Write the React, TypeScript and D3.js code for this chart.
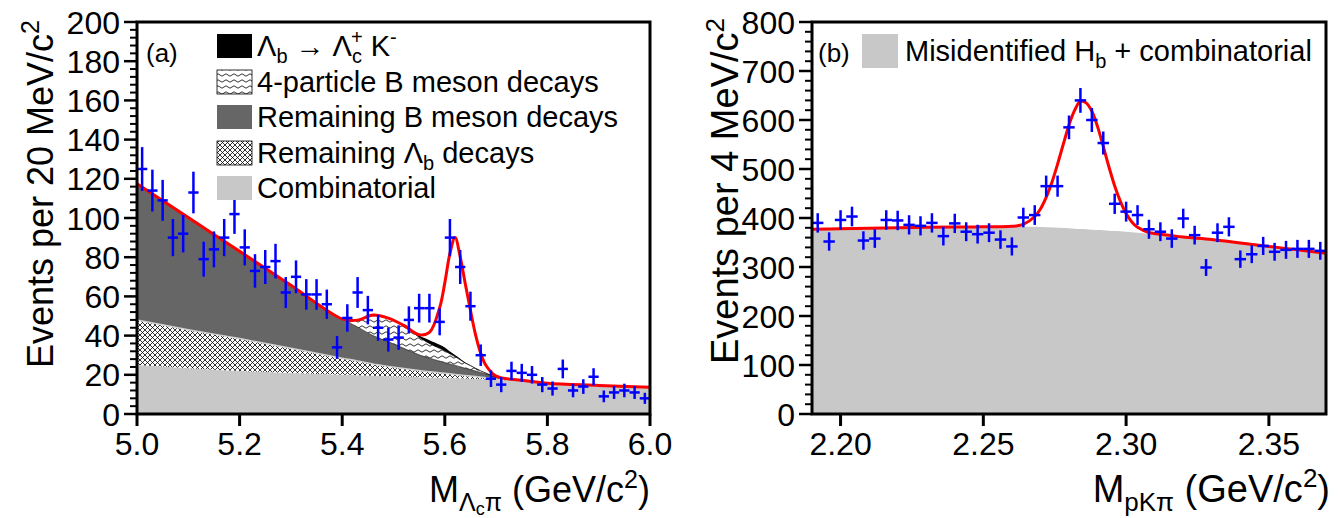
import React from "react";
import * as d3 from "d3";

const FONT = "'Liberation Sans', Arial, Helvetica, sans-serif";

// ---- panel (a): M(Λc π), 20 MeV bins from 5.0 to 6.0 ----
const countsA = [
  125, 114, 109, 90, 92, 113, 79, 84, 90, 102,
  85, 73, 75, 78, 62, 70, 61, 61, 56, 34,
  49, 62, 53, 44, 38, 39, 48, 54, 54, 47,
  90, 75, 55, 30, 18, 15, 22, 21, 20, 15,
  13, 23, 12, 14, 19, 9, 11, 12, 11, 8,
];

// fit components (events per bin)
const fitXA = [5.0, 5.1, 5.2, 5.3, 5.4, 5.43, 5.46, 5.49, 5.52, 5.55, 5.57, 5.59, 5.6, 5.61, 5.62, 5.63, 5.64, 5.65, 5.66, 5.67, 5.68, 5.7, 5.75, 5.8, 5.9, 6.0];
const combA = [25.0, 23.4, 22.0, 20.9, 20.0, 19.8, 19.5, 19.3, 19.0, 18.8, 18.6, 18.5, 18.4, 18.3, 18.2, 18.1, 18.0, 17.9, 17.8, 17.7, 17.6, 17.4, 16.6, 15.7, 14.6, 13.6];
const lbOtherA = [23.0, 19.6, 16.5, 12.6, 8.5, 7.3, 6.0, 5.0, 4.2, 3.4, 3.0, 2.6, 2.4, 2.2, 2.0, 1.8, 1.6, 1.5, 1.3, 1.1, 0.9, 0.5, 0.2, 0, 0, 0];
const bOtherA = [69.5, 57.2, 44.5, 32.2, 20.0, 17.3, 14.5, 12.6, 10.3, 8.0, 6.9, 5.9, 5.5, 5.0, 4.6, 4.2, 3.7, 3.3, 2.8, 2.4, 2.0, 0.8, 0.4, 0, 0, 0];
const b4A = [0, 0, 0, 0, 0, 3.5, 10.5, 12.0, 11.5, 9.0, 7.5, 6.5, 6.0, 5.2, 4.5, 3.6, 2.7, 2.0, 1.4, 0.8, 0.4, 0.1, 0, 0, 0, 0];
const lbKA = [0, 0, 0, 0, 0, 0, 0, 0, 0.2, 0.8, 1.6, 1.8, 1.6, 1.2, 0.8, 0.5, 0.3, 0.2, 0.1, 0, 0, 0, 0, 0, 0, 0];
const sigA = [0, 0, 0, 0, 0, 0, 0, 0, 0, 0.5, 4, 19, 33, 50, 60, 52, 40, 28, 17, 9, 4, 0.5, 0, 0, 0, 0];

// ---- panel (b): M(pKπ), 4 MeV bins from 2.19 to 2.37 ----
const countsB = [
  390, 352, 396, 403, 354, 358, 396, 395, 386, 384,
  390, 363, 389, 372, 367, 370, 356, 342, 401, 406,
  465, 465, 585, 640, 600, 553, 429, 413, 406, 377,
  372, 358, 399, 365, 299, 370, 382, 316, 326, 343,
  331, 335, 337, 337, 333,
];
const fitXB = [2.19, 2.2, 2.21, 2.22, 2.23, 2.24, 2.25, 2.26, 2.264, 2.268, 2.27, 2.272, 2.274, 2.276, 2.278, 2.28, 2.282, 2.284, 2.286, 2.288, 2.29, 2.292, 2.294, 2.296, 2.298, 2.3, 2.302, 2.304, 2.308, 2.315, 2.32, 2.33, 2.34, 2.35, 2.36, 2.37];
const bkgB = [377, 378, 379, 380, 381, 381.5, 382, 382, 382, 382, 381.5, 381, 380.5, 380, 379.5, 379, 378, 377.5, 377, 376, 375.5, 375, 374, 373.5, 373, 372, 371, 370, 368, 365, 361, 356, 349, 342, 335, 328];
const sigB = [0, 0, 0, 0, 0, 0, 0, 1, 5, 21, 37, 61, 92, 130, 171, 211, 242, 261, 258, 242, 211, 171, 130, 92, 61, 37, 21, 11, 2.5, 0, 0, 0, 0, 0, 0, 0];

const xTicksA = [5.0, 5.2, 5.4, 5.6, 5.8, 6.0];
const xTicksB = [2.2, 2.25, 2.3, 2.35];

const boxA = { left: 137, right: 650, top: 22, bottom: 414 };
const boxB = { left: 812, right: 1326, top: 22, bottom: 414 };

function cumulate(layers: number[][]) {
  let run = layers[0].map(() => 0);
  return layers.map(l => (run = run.map((v, i) => v + l[i])));
}

function Axes({ box, x, y, xTicks, xFmt, yStep, yMinorStep }: any) {
  const [y0, y1] = y.domain();
  const major = d3.range(y0, y1 + 0.001, yStep);
  const minor = d3.range(y0, y1 + 0.001, yMinorStep).filter(v => v % yStep !== 0);
  return (
    <g fontFamily={FONT} fontSize={32}>
      {minor.map(v => (
        <line key={"m" + v} x1={box.left - 7} x2={box.left} y1={y(v)} y2={y(v)} stroke="#000" strokeWidth={2} />
      ))}
      {major.map(v => (
        <g key={"M" + v}>
          <line x1={box.left - 13} x2={box.left} y1={y(v)} y2={y(v)} stroke="#000" strokeWidth={2.5} />
          <text x={box.left - 17} y={y(v)} dy="0.36em" textAnchor="end">{v}</text>
        </g>
      ))}
      {xTicks.map((v: number) => (
        <g key={"x" + v}>
          <line x1={x(v)} x2={x(v)} y1={box.bottom} y2={box.bottom + 12} stroke="#000" strokeWidth={3} />
          <text x={x(v)} y={box.bottom + 18} dy="0.72em" textAnchor="middle">{xFmt(v)}</text>
        </g>
      ))}
      <rect x={box.left} y={box.top} width={box.right - box.left} height={box.bottom - box.top}
        fill="none" stroke="#000" strokeWidth={3} />
    </g>
  );
}

function Points({ counts, x, y, lo, bw, clip }: any) {
  return (
    <g stroke="#0000ff" strokeWidth={2.5} clipPath={clip}>
      {counts.map((c: number, i: number) => {
        const cx = lo + bw * (i + 0.5);
        const e = Math.sqrt(c);
        return (
          <g key={i}>
            <line x1={x(cx)} x2={x(cx)} y1={y(c - e)} y2={y(c + e)} />
            <line x1={x(cx - bw / 2)} x2={x(cx + bw / 2)} y1={y(c)} y2={y(c)} />
          </g>
        );
      })}
    </g>
  );
}

export default function App() {
  const xA = d3.scaleLinear().domain([5.0, 6.0]).range([boxA.left, boxA.right]);
  const yA = d3.scaleLinear().domain([0, 200]).range([boxA.bottom, boxA.top]);
  const xB = d3.scaleLinear().domain([2.19, 2.37]).range([boxB.left, boxB.right]);
  const yB = d3.scaleLinear().domain([0, 800]).range([boxB.bottom, boxB.top]);

  const curve = d3.curveCatmullRom;
  const idxA = d3.range(fitXA.length);
  const cumA = cumulate([combA, lbOtherA, bOtherA, b4A, lbKA, sigA]);
  const zero = fitXA.map(() => 0);
  const bandA = (lo: number[], hi: number[]) =>
    d3.area<number>().x(i => xA(fitXA[i])).y0(i => yA(lo[i])).y1(i => yA(hi[i])).curve(curve)(idxA) || "";
  const lineA = (v: number[]) => d3.line<number>().x(i => xA(fitXA[i])).y(i => yA(v[i])).curve(curve)(idxA) || "";

  const idxB = d3.range(fitXB.length);
  const totB = bkgB.map((v, i) => v + sigB[i]);
  const bkgAreaB = d3.area<number>().x(i => xB(fitXB[i])).y0(yB(0)).y1(i => yB(bkgB[i])).curve(curve)(idxB) || "";
  const totLineB = d3.line<number>().x(i => xB(fitXB[i])).y(i => yB(totB[i])).curve(curve)(idxB) || "";

  const legendA = [
    { key: "lbk", fill: "#000000" },
    { key: "b4", fill: "url(#wavy)" },
    { key: "bo", fill: "#666666" },
    { key: "lbo", fill: "url(#xhatch)" },
    { key: "comb", fill: "#c8c8c8" },
  ];
  const legendY = [46, 82, 117, 153, 188];

  return (
    <svg width={1338} height={518} style={{ position: "absolute", left: 0, top: 0, background: "#fff" }} fontFamily={FONT}>
      <defs>
        <clipPath id="clipA"><rect x={boxA.left} y={boxA.top} width={boxA.right - boxA.left} height={boxA.bottom - boxA.top} /></clipPath>
        <clipPath id="clipB"><rect x={boxB.left} y={boxB.top} width={boxB.right - boxB.left} height={boxB.bottom - boxB.top} /></clipPath>
        <pattern id="xhatch" width={5} height={5} patternUnits="userSpaceOnUse">
          <rect width={5} height={5} fill="#fff" />
          <path d="M0,0L5,5M5,0L0,5" stroke="#000" strokeWidth={0.8} />
        </pattern>
        <pattern id="wavy" width={8} height={6} patternUnits="userSpaceOnUse">
          <rect width={8} height={6} fill="#fff" />
          <path d="M0,3 Q2,0.6 4,3 T8,3" fill="none" stroke="#000" strokeWidth={0.8} />
        </pattern>
      </defs>

      {/* panel (a) */}
      <g clipPath="url(#clipA)">
        <path d={bandA(zero, cumA[0])} fill="#c8c8c8" />
        <path d={bandA(cumA[0], cumA[1])} fill="url(#xhatch)" />
        <path d={bandA(cumA[1], cumA[2])} fill="#666666" />
        <path d={lineA(cumA[1])} fill="none" stroke="#d0d0d0" strokeWidth={1.5} />
        <path d={bandA(cumA[2], cumA[3])} fill="url(#wavy)" />
        <path d={bandA(cumA[3], cumA[4])} fill="#000" />
        <path d={lineA(cumA[3])} fill="none" stroke="#000" strokeWidth={0.8} />
        <path d={lineA(cumA[2])} fill="none" stroke="#000" strokeWidth={0.6} />
        <path d={lineA(cumA[5])} fill="none" stroke="#ff0000" strokeWidth={3} />
      </g>
      <Points counts={countsA} x={xA} y={yA} lo={5.0} bw={0.02} clip="url(#clipA)" />
      <Axes box={boxA} x={xA} y={yA} xTicks={xTicksA} xFmt={d3.format(".1f")} yStep={20} yMinorStep={4} />

      <text x={146} y={62} fontSize={26}>(a)</text>
      <g fontSize={29}>
        {legendA.map((d, i) => (
          <rect key={d.key} x={217} y={legendY[i] - 12} width={35} height={24} fill={d.fill}
            stroke={d.fill.startsWith("url") ? "#000" : "none"} strokeWidth={0.8} />
        ))}
        <text x={257} y={legendY[0] + 10}>
          Λ<tspan dy={7} fontSize={20}>b</tspan>
          <tspan dy={-7}> → Λ</tspan>
          <tspan dy={7} fontSize={20}>c</tspan>
          <tspan dx={-11} dy={-19} fontSize={20}>+</tspan>
          <tspan dy={12}> K</tspan>
          <tspan dy={-12} fontSize={20}>-</tspan>
        </text>
        <text x={257} y={legendY[1] + 10}>4-particle B meson decays</text>
        <text x={257} y={legendY[2] + 10}>Remaining B meson decays</text>
        <text x={257} y={legendY[3] + 10}>
          Remaining Λ<tspan dy={7} fontSize={20}>b</tspan><tspan dy={-7}> decays</tspan>
        </text>
        <text x={257} y={legendY[4] + 10}>Combinatorial</text>
      </g>

      <text transform="translate(53,20) rotate(-90)" textAnchor="end" fontSize={36}>
        Events per 20 MeV/c<tspan dy={-14} fontSize={25}>2</tspan>
      </text>
      <text x={650} y={502} textAnchor="end" fontSize={36}>
        M<tspan dy={9} fontSize={25}>Λ</tspan><tspan fontSize={18} dy={4}>c</tspan><tspan fontSize={25} dy={-4}>π</tspan>
        <tspan dy={-9}> (GeV/c</tspan><tspan dy={-14} fontSize={25}>2</tspan><tspan dy={14}>)</tspan>
      </text>

      {/* panel (b) */}
      <g clipPath="url(#clipB)">
        <path d={bkgAreaB} fill="#c8c8c8" />
        <path d={totLineB} fill="none" stroke="#ff0000" strokeWidth={3} />
      </g>
      <Points counts={countsB} x={xB} y={yB} lo={2.19} bw={0.004} clip="url(#clipB)" />
      <Axes box={boxB} x={xB} y={yB} xTicks={xTicksB} xFmt={d3.format(".2f")} yStep={100} yMinorStep={20} />

      <text x={818} y={62} fontSize={26}>(b)</text>
      <rect x={862} y={34} width={36} height={34} fill="#c8c8c8" />
      <text x={905} y={61} fontSize={29}>
        Misidentified H<tspan dy={7} fontSize={20}>b</tspan><tspan dy={-7}> + combinatorial</tspan>
      </text>

      <text transform="translate(738,18) rotate(-90)" textAnchor="end" fontSize={38}>
        Events per 4 MeV/c<tspan dy={-14} fontSize={26}>2</tspan>
      </text>
      <text x={1330} y={502} textAnchor="end" fontSize={38}>
        M<tspan dy={9} fontSize={26}>pKπ</tspan>
        <tspan dy={-9}> (GeV/c</tspan><tspan dy={-15} fontSize={26}>2</tspan><tspan dy={15}>)</tspan>
      </text>
    </svg>
  );
}
